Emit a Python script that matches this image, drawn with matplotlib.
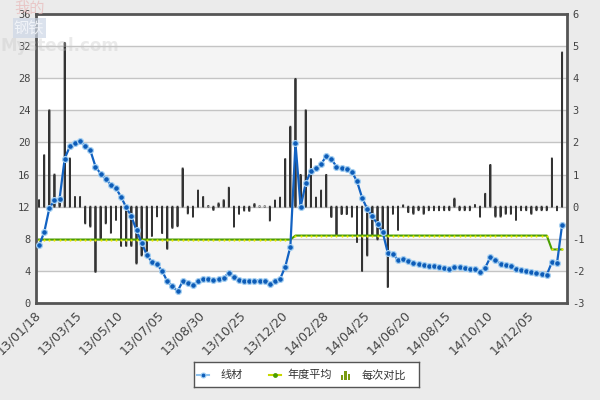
import numpy as np
import matplotlib
matplotlib.use("Agg")
import matplotlib.pyplot as plt
from matplotlib.patches import Rectangle

plt.rcParams['axes.unicode_minus'] = False

# ---------------- data ----------------
tick_labels = ["13/01/18", "13/03/15", "13/05/10", "13/07/05", "13/08/30", "13/10/25",
               "13/12/20", "14/02/28", "14/04/25", "14/06/20", "14/08/15", "14/10/10",
               "14/12/05"]
tick_step = 8

wire_price = [7.2, 8.8, 11.8, 12.8, 13.0, 18.0, 19.5, 19.9, 20.2, 19.6,
              19.0, 17.0, 16.1, 15.5, 14.7, 14.3, 13.2, 11.9, 10.8, 9.05,
              7.5, 6.0, 5.1, 4.8, 4.0, 2.7, 2.1, 1.45, 2.7, 2.45,
              2.2, 2.7, 2.95, 2.95, 2.85, 2.95, 3.15, 3.75, 3.2, 2.9,
              2.8, 2.7, 2.8, 2.8, 2.8, 2.4, 2.7, 3.0, 4.5, 7.0,
              19.9, 11.95, 14.95, 16.4, 16.8, 17.3, 18.3, 17.9, 17.0, 16.8,
              16.7, 16.35, 15.15, 13.1, 11.7, 10.8, 9.8, 8.85, 6.25, 6.05,
              5.4, 5.45, 5.2, 5.0, 4.9, 4.72, 4.65, 4.58, 4.5, 4.4,
              4.26, 4.5, 4.47, 4.32, 4.24, 4.24, 3.9, 4.4, 5.7, 5.3,
              4.9, 4.7, 4.57, 4.24, 4.07, 4.03, 3.8, 3.74, 3.6, 3.5,
              5.07, 4.95, 9.76]

change = [0.2, 1.6, 3.0, 1.0, 0.2, 5.1, 1.5, 0.3, 0.3, -0.52,
          -0.62, -2.03, -1.0, -0.52, -0.81, -0.41, -1.22, -1.22, -1.22, -1.77,
          -1.52, -1.38, -0.91, -0.3, -0.82, -1.31, -0.66, -0.61, 1.19, -0.21,
          -0.31, 0.5, 0.3, 0.02, -0.1, 0.1, 0.2, 0.59, -0.62, -0.22,
          -0.12, -0.13, 0.08, 0.01, 0.01, -0.43, 0.19, 0.28, 1.48, 2.49,
          3.98, 0.99, 3.0, 1.48, 0.28, 0.5, 0.99, -0.32, -0.88, -0.23,
          -0.23, -0.31, -1.1, -2.0, -1.52, -0.88, -1.02, -0.85, -2.5, -0.22,
          -0.72, 0.04, -0.17, -0.22, -0.11, -0.22, -0.11, -0.11, -0.11, -0.11,
          -0.11, 0.25, -0.11, -0.11, -0.11, 0.05, -0.31, 0.4, 1.3, -0.31,
          -0.31, -0.22, -0.22, -0.41, -0.11, -0.11, -0.22, -0.11, -0.11, -0.11,
          1.5, -0.11, 4.8]

year_avg = [7.9, 8.4, 6.67]
year_counts = [50, 50, 3]

legend_labels = ["线材", "年度平均", "每次对比"]

# ---------------- styling ----------------
CJK = ['Noto Sans CJK SC', 'DejaVu Sans']
blue = '#1262c2'
green = '#4a9e00'
frame = '#555555'

n = len(wire_price)
x = np.arange(n)
avg_line = np.repeat(year_avg, year_counts)

fig = plt.figure(figsize=(6, 4), dpi=100, facecolor='#ebebeb')
L, R, B, T = 36 / 600, 567 / 600, (400 - 303) / 400, (400 - 14) / 400
axb = fig.add_axes([L, B, R - L, T - B])
axl = axb.twinx()

axb.set_facecolor('white')
axb.set_xlim(-0.6, 102.95)
axb.set_ylim(-3, 6)
axl.set_ylim(0, 36)

# bands and grid
for lo in [-2, 0, 2, 4]:
    axb.axhspan(lo, lo + 1, color='#f4f4f4', zorder=0, lw=0)
for v in range(-2, 6):
    axb.axhline(v, color='#c4c4c4', lw=1, zorder=0.5)

bars = axb.bar(x, change, width=0.01, color='#333333', edgecolor='#333333',
               linewidth=1.3, zorder=2)
for b in bars:
    b.set_snap(False)

axl.plot(x, avg_line, color=green, lw=1.5, zorder=3)
axl.plot(x, avg_line, ls='none', marker='o', ms=1.6, mfc='#e6e600', mec='none', zorder=3.5)
axl.plot(x, wire_price, color=blue, lw=1.6, marker='o', ms=4.2, mfc='#0d5cb8',
         mec='#a5d0f2', mew=0.9, zorder=4, clip_on=False)

# axes sides
axb.yaxis.tick_right()
axl.yaxis.tick_left()
axb.set_yticks(range(-3, 7))
axl.set_yticks(range(0, 37, 4))
axb.set_xticks(x[::tick_step][:len(tick_labels)])
axb.set_xticklabels(tick_labels, rotation=45, ha='right', va='center',
                    rotation_mode='anchor', fontsize=9, color='#444444')
axb.tick_params(axis='x', length=0, pad=7)
axb.tick_params(axis='y', length=0, pad=4, labelsize=7.5, labelcolor='#444444')
axl.tick_params(axis='y', length=0, pad=4, labelsize=7.5, labelcolor='#444444')
for lab in axb.get_yticklabels() + axl.get_yticklabels():
    lab.set_family('DejaVu Sans Mono')

for s in axl.spines.values():
    s.set_visible(False)
for s in axb.spines.values():
    s.set_color(frame)
    s.set_linewidth(2)

# ---------------- legend ----------------
lx0, ly0, lw_, lh_ = 194, 362, 225, 25
lax = fig.add_axes([lx0 / 600, (400 - ly0 - lh_) / 400, lw_ / 600, lh_ / 400])
lax.set_xlim(0, lw_)
lax.set_ylim(0, lh_)
lax.set_xticks([])
lax.set_yticks([])
lax.set_facecolor('white')
for s in lax.spines.values():
    s.set_color(frame)
    s.set_linewidth(1)
cy = lh_ / 2 - 0.5
lax.plot([3, 15], [cy, cy], color='#8ec2ee', lw=1.5)
lax.plot([9], [cy], marker='o', ms=3.5, mfc='#0d5cb8', mec='#9fcdf2', mew=0.8)
lax.text(27, cy, legend_labels[0], family=CJK, fontsize=8, va='center', color='#333333')
lax.plot([75, 87], [cy, cy], color='#c8d800', lw=1.5)
lax.plot([81], [cy], marker='o', ms=3.5, mfc=green, mec='none')
lax.text(93, cy, legend_labels[1], family=CJK, fontsize=8, va='center', color='#333333')
for bx, bh in [(147, 5), (150.5, 9), (154, 6)]:
    lax.add_patch(Rectangle((bx, cy - 4.5), 2.4, bh, color='#7a9a10', lw=0))
lax.text(168, cy, legend_labels[2], family=CJK, fontsize=8, va='center', color='#333333')

# ---------------- watermark ----------------
fig.text(14 / 600, 1 - 8 / 400, "我的", family=CJK, fontsize=11, color='#e8b8b8',
         va='center', ha='left', alpha=0.7, zorder=10)
fig.text(14 / 600, 1 - 28 / 400, "钢铁", family=CJK, fontsize=11, color='#f4f6fa',
         va='center', ha='left', zorder=10, alpha=0.9,
         bbox=dict(boxstyle='square,pad=0.08', fc='#cdd7e6', ec='none', alpha=0.7))
fig.text(0 / 600, 1 - 46 / 400, "Mysteel.com", fontsize=12, weight='bold',
         color='#c4c4c4', alpha=0.35, va='center', ha='left', zorder=10)

fig.savefig("out.png", dpi=100, facecolor=fig.get_facecolor())
